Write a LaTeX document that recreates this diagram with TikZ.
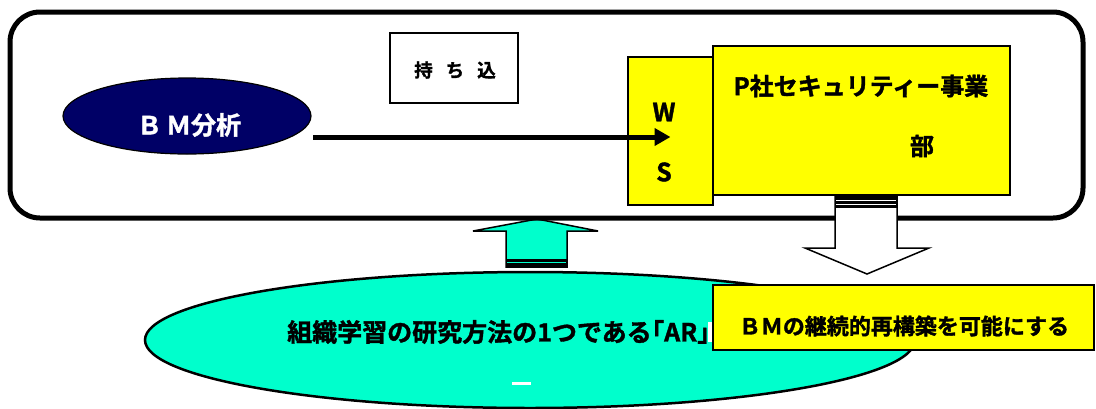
\documentclass[tikz,border=0pt]{standalone}
\usepackage{fontspec}
\newfontfamily\jp{Noto Sans CJK JP}[BoldFont={Noto Sans CJK JP Bold}, BoldFeatures={FakeBold=1.5}]
\usetikzlibrary{arrows.meta,shapes.geometric}
\definecolor{cyanfill}{HTML}{00FFCC}
\definecolor{navy}{HTML}{000066}
\definecolor{yel}{HTML}{FFFF00}
\tikzset{
  lbl/.style={inner sep=0pt, font=\jp\bfseries},
  ybox/.style={draw=black, fill=yel, line width=1.5pt, inner sep=0pt},
  blockarrow/.style={draw=black, line width=1.5pt, line join=miter},
}
\begin{document}
\begin{tikzpicture}[x=1pt,y=-1pt]
\useasboundingbox (0,0) rectangle (1096,408);
% up arrow (drawn before the frame)
\draw[blockarrow, fill=cyanfill] (506,267) -- (506,231) -- (473,231) -- (537,219) -- (598,231) -- (567,231) -- (567,267) -- cycle;
\fill[black] (506,259) rectangle (567,267);
\draw[cyanfill, line width=1.3pt] (507,262.5) -- (566,262.5);
% frame
\node[draw, line width=5pt, rounded corners=30pt, minimum width=1073pt, minimum height=206pt, inner sep=0pt] (frame) at (546.5,115) {};
% down arrow
\draw[blockarrow, fill=white] (835,196) -- (835,248) -- (805,248) -- (867,274) -- (929,248) -- (897,248) -- (897,196) -- cycle;
\fill[black] (835,196) rectangle (897,208);
\draw[white, line width=1pt] (836,200) -- (896,200);
\draw[white, line width=1pt] (836,204.5) -- (896,204.5);
% BM ellipse
\node[ellipse, draw=black, fill=navy, line width=1.2pt, minimum width=248pt, minimum height=76pt, inner sep=0pt] (bm) at (187,116) {};
\node[lbl, text=white, font=\jp\bfseries\fontsize{25}{25}\selectfont] (bmt) at (189,125) {Ｂ\,Ｍ分析};
% mochikomi box
\node[draw=black, line width=1.2pt, fill=white, minimum width=128pt, minimum height=70pt, inner sep=0pt] (mk) at (454,68) {};
\node[lbl, font=\jp\bfseries\fontsize{18.5}{18.5}\selectfont] (mkt) at (455,70) {持\hspace{13pt}ち\hspace{13pt}込};
% WS and P boxes
\node[ybox, minimum width=85pt, minimum height=148pt] (ws) at (670.5,131) {};
\node[ybox, minimum width=297pt, minimum height=149pt] (pb) at (861.5,120.5) {};
\node[lbl, font=\jp\bfseries\fontsize{25}{25}\selectfont] (w) at (664,112) {W};
\node[lbl, font=\jp\bfseries\fontsize{25}{25}\selectfont] (s) at (664,172) {S};
\node[lbl, font=\jp\bfseries\fontsize{24}{24}\selectfont] (pt) at (861,86) {P社セキュリティー事業};
\node[lbl, font=\jp\bfseries\fontsize{24}{24}\selectfont] (bu) at (922,146) {部};
% main arrow
\coordinate (a0) at (313,137);
\draw[line width=5pt, -{Triangle[length=16pt, width=17pt]}] (a0) -- (a0 -| ws.center);
% cyan ellipse
\node[ellipse, draw=black, fill=cyanfill, line width=2.5pt, minimum width=770pt, minimum height=136pt, inner sep=0pt] (ar) at (530,340) {};
\fill[white] (708,322) rectangle (713,342);
\fill[white] (512,382) rectangle (531,385);
\node[lbl, font=\jp\bfseries\fontsize{25}{25}\selectfont] (art) at (498.5,332) {組織学習の研究方法の1つである｢AR｣};
% bottom yellow box
\node[ybox, minimum width=381pt, minimum height=65pt] (bmr) at (903.5,317.5) {};
\node[lbl, font=\jp\bfseries\fontsize{22}{22}\selectfont] (bmrt) at (904,326) {ＢＭの継続的再構築を可能にする};
\end{tikzpicture}
\end{document}
